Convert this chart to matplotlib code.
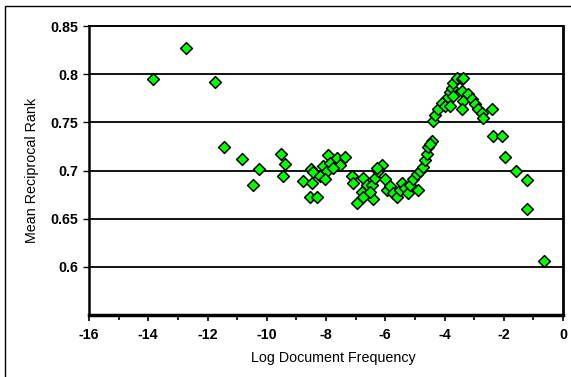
import matplotlib
matplotlib.use("Agg")
import matplotlib.pyplot as plt
from matplotlib.patches import Rectangle
from matplotlib.ticker import MultipleLocator

log_df = [
    -13.85, -12.74, -11.75, -11.44, -10.82, -10.26, -10.45, -9.53, -9.38, -9.44,
    -8.77, -8.52, -8.45, -8.46, -8.54, -8.31, -8.20,
    -7.92, -8.09, -7.98, -8.03, -7.86, -7.64, -7.53, -7.36, -7.75,
    -7.13, -7.08, -6.74, -6.63, -6.80, -6.96, -6.74, -6.40, -6.46, -6.35,
    -6.24, -6.12, -6.29, -6.52, -6.01, -5.95, -5.84, -5.73, -5.61, -5.50,
    -5.45, -5.33, -5.22, -5.16, -5.05, -4.94, -4.88, -4.83, -4.72, -4.66,
    -4.60, -4.55, -4.43, -4.49,
    -4.38, -4.32, -4.21, -4.10, -3.98, -3.87, -3.81, -3.76, -3.70, -3.59,
    -3.42, -3.36, -3.42, -3.36, -3.42, -3.20, -3.08, -2.97, -2.86, -2.74,
    -2.69, -2.41, -3.81, -3.70,
    -2.35, -2.07, -1.96, -1.59, -1.23, -1.23, -0.64,
]
mrr = [
    0.7955, 0.8268, 0.792, 0.7247, 0.7115, 0.702, 0.685, 0.7174, 0.707, 0.694,
    0.689, 0.702, 0.698, 0.687, 0.673, 0.673, 0.694,
    0.7156, 0.7045, 0.699, 0.691, 0.708, 0.713, 0.706, 0.714, 0.703,
    0.6948, 0.687, 0.692, 0.685, 0.678, 0.666, 0.672, 0.670, 0.685, 0.692,
    0.699, 0.706, 0.703, 0.678, 0.691, 0.680, 0.684, 0.677, 0.672, 0.680,
    0.687, 0.682, 0.677, 0.685, 0.691, 0.696, 0.680, 0.699, 0.704, 0.711,
    0.717, 0.724, 0.731, 0.727,
    0.751, 0.758, 0.7635, 0.770, 0.767, 0.776, 0.781, 0.786, 0.791, 0.796,
    0.795, 0.796, 0.783, 0.772, 0.7635, 0.779, 0.774, 0.769, 0.7635, 0.760,
    0.755, 0.7635, 0.767, 0.777,
    0.736, 0.736, 0.714, 0.700, 0.690, 0.660, 0.606,
]

x_ticks = [-16, -14, -12, -10, -8, -6, -4, -2, 0]
y_ticks = [0.6, 0.65, 0.7, 0.75, 0.8, 0.85]
y_tick_labels = ["0.6", "0.65", "0.7", "0.75", "0.8", "0.85"]

plt.rcParams['font.family'] = ['Liberation Sans', 'DejaVu Sans']

fig = plt.figure(figsize=(5.71, 3.77), dpi=100)
W, H = 571, 377
ax = fig.add_axes([89 / W, 1 - 315 / H, (563 - 89) / W, (315 - 26) / H])

# outer chart border (only left/top visible in crop)
fig.patches.append(Rectangle((5 / W, -0.1), 1.2, 1 - 6 / H + 0.1,
                             transform=fig.transFigure, fill=False,
                             edgecolor='black', linewidth=1.0))

ax.set_xlim(-16, 0)
ax.set_ylim(0.55, 0.85)

for yv in y_ticks[:-1]:
    ax.axhline(yv, color='black', linewidth=1.3, zorder=1)

ax.scatter(log_df, mrr, marker='D', s=36, facecolor='#00FF00',
           edgecolor='black', linewidth=1.1, zorder=3, clip_on=False)

ax.set_xticks(x_ticks)
ax.set_xticklabels([str(v) for v in x_ticks])
ax.xaxis.set_minor_locator(MultipleLocator(1))
ax.set_yticks(y_ticks)
ax.set_yticklabels(y_tick_labels)

for lbl in ax.get_xticklabels() + ax.get_yticklabels():
    lbl.set_fontweight('bold')
    lbl.set_fontsize(10.3)

ax.tick_params(axis='x', which='major', direction='out', length=4.5, width=1.2, pad=5)
ax.tick_params(axis='x', which='minor', direction='out', length=3.5, width=1.2)
ax.tick_params(axis='y', which='major', direction='out', length=4, width=1.0, pad=4)

ax.spines['bottom'].set_linewidth(2.5)
ax.spines['left'].set_linewidth(1.8)
ax.spines['top'].set_linewidth(1.4)
ax.spines['right'].set_linewidth(2.0)

ax.set_xlabel('Log Document Frequency', fontsize=10.3)
ax.xaxis.set_label_coords(0.515, -0.125)
ax.set_ylabel('Mean Reciprocal Rank', fontsize=10.3, labelpad=8)

fig.savefig('out.png', dpi=100)
